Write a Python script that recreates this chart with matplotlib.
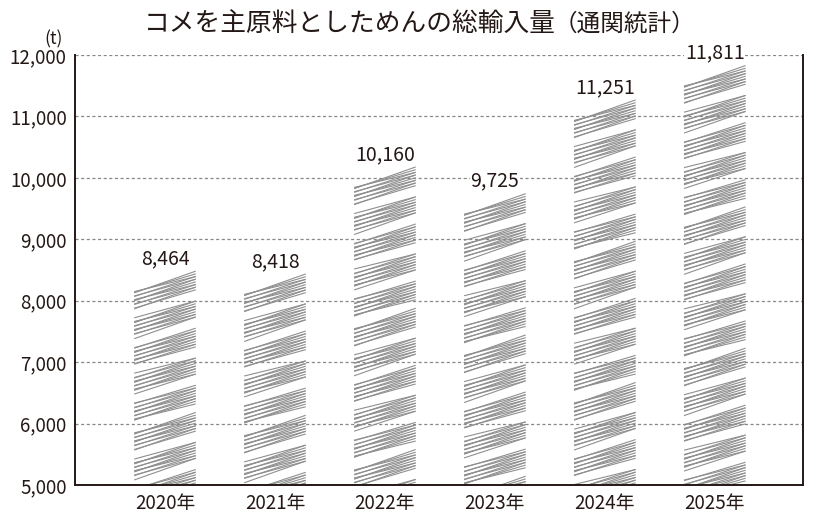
import numpy as np
import matplotlib
matplotlib.use("Agg")
import matplotlib.pyplot as plt
from matplotlib.ticker import FuncFormatter

plt.rcParams["font.family"] = ["Noto Sans CJK JP", "DejaVu Sans"]

# data
years = ["2020年", "2021年", "2022年", "2023年", "2024年", "2025年"]
volumes = [8464, 8418, 10160, 9725, 11251, 11811]
y_ticks = [5000, 6000, 7000, 8000, 9000, 10000, 11000, 12000]

TEXT = "#231815"
SCRIBBLE = "#8f8f8f"

fig = plt.figure(figsize=(8.2, 5.24), dpi=100)
ax = fig.add_axes([0.0915, 0.0744, 0.8875, 0.8206])

x = np.arange(len(years))
bars = ax.bar(x, volumes, width=0.5, color="none", edgecolor="none")

# scribble texture: tilted bands of thin strokes, clipped to each bar
period = 460
rise = 300
for bar in bars:
    x0 = bar.get_x()
    w = bar.get_width()
    yb = bar.get_height()
    k = 0
    while yb > 4500:
        for j in range(12):
            off = j * 26
            tilt = ((j * 7 + k * 3) % 5 - 2) * 18
            ax.plot([x0 - 0.03, x0 + w + 0.03],
                    [yb - rise - off + tilt, yb - off - tilt * 0.5],
                    color=SCRIBBLE, lw=0.8, solid_capstyle="butt",
                    clip_path=bar, zorder=2)
        yb -= period
        k += 1

for bar, v in zip(bars, volumes):
    ax.text(bar.get_x() + bar.get_width() / 2, v + 50, f"{v:,}",
            ha="center", va="bottom", fontsize=14, color=TEXT, zorder=4,
            bbox=dict(facecolor="white", edgecolor="none", pad=0.5))

ax.set_xlim(-0.818, 5.8)
ax.set_ylim(5000, 12000)
ax.set_yticks(y_ticks)
ax.yaxis.set_major_formatter(FuncFormatter(lambda v, p: f"{int(v):,}"))
ax.set_xticks(x)
ax.set_xticklabels(years)
ax.tick_params(length=0, labelsize=13.5, labelcolor=TEXT, pad=6)

ax.grid(axis="y", color="#888888", linestyle=(0, (2.5, 2)), lw=0.9, zorder=1)
ax.set_axisbelow(True)
ax.spines["top"].set_visible(False)
for s in ["left", "right", "bottom"]:
    ax.spines[s].set_color(TEXT)
    ax.spines[s].set_linewidth(1.4)

ax.text(-0.03, 1.015, "(t)", transform=ax.transAxes, ha="center",
        va="bottom", fontsize=12.5, color=TEXT)

fig.text(0.678, 0.953, "コメを主原料としためんの総輸入量", ha="right", va="center",
         fontsize=18.5, color=TEXT)
fig.text(0.675, 0.953, "（通関統計）", ha="left", va="center",
         fontsize=17, color=TEXT)

fig.savefig("out.png", dpi=100)
